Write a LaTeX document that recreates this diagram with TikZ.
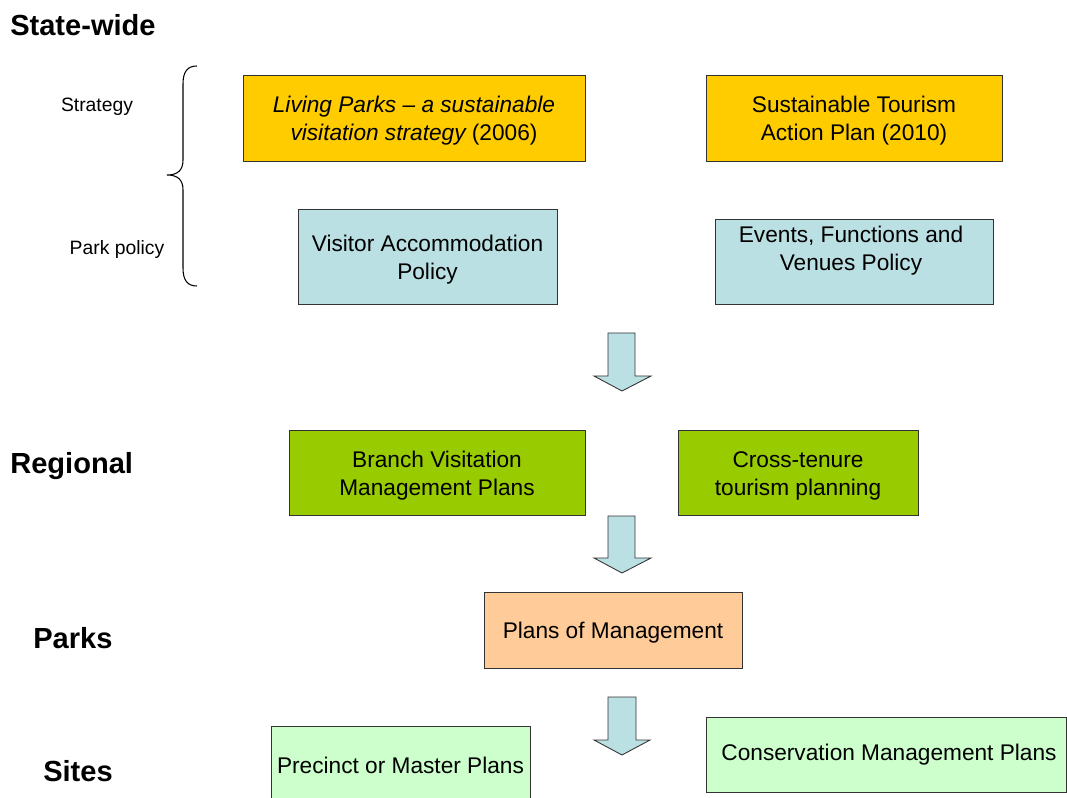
\documentclass[tikz,border=0pt]{standalone}
\usepackage{fontspec}
\setmainfont{Liberation Sans}
\definecolor{cOrange}{HTML}{FFCC00}
\definecolor{cBlue}{HTML}{BBE0E3}
\definecolor{cGreen}{HTML}{99CC00}
\definecolor{cPeach}{HTML}{FFCC99}
\definecolor{cLight}{HTML}{CCFFCC}
\definecolor{cLine}{HTML}{333333}
\begin{document}
\begin{tikzpicture}[x=0.75pt,y=-0.75pt,
  box/.style={draw=cLine,line width=0.65pt,inner sep=0pt},
  sz/.style 2 args={minimum width={#1*0.75pt},minimum height={#2*0.75pt}},
  body/.style={font=\fontsize{17}{21}\selectfont,align=center,inner sep=0pt,yshift=-2.3pt},
  head/.style={font=\fontsize{21.8}{26}\selectfont\bfseries,anchor=west,inner sep=0pt,yshift=-1pt},
  side/.style={font=\fontsize{14.5}{17}\selectfont,inner sep=0pt,yshift=-2pt},
  blockarrow/.style={draw=cLine,line width=0.65pt,fill=cBlue,line join=miter}]
\useasboundingbox (0,0) rectangle (1067,798);

% headings
\node[head] (hState) at (10,24) {State-wide};
\node[head] (hReg) at (10,465) {Regional};
\node[head] (hParks) at (33,637) {Parks};
\node[head] (hSites) at (43,770) {Sites};

\node[side] (lStrat) at (97,104) {Strategy};
\node[side] (lPol) at (117,247) {Park policy};

% brace
\draw[line width=0.8pt,black] (197,66) .. controls (188,66) and (183,71) .. (183,84) -- (183,160)
  .. controls (183,170) and (178,175) .. (167,175)
  .. controls (178,175) and (183,180) .. (183,190) -- (183,268)
  .. controls (183,281) and (188,286) .. (197,286);

% state-wide boxes
\node[box,fill=cOrange,sz={342}{86}] (living) at (414,118) {};
\node[body] (livingT) at (living.center) {\itshape Living Parks -- a sustainable\\\itshape visitation strategy \upshape(2006)};
\node[box,fill=cOrange,sz={296}{86}] (tourism) at (854,118) {};
\node[body] (tourismT) at (tourism.center) {Sustainable Tourism\\Action Plan (2010)};
\node[box,fill=cBlue,sz={259}{95}] (visitor) at (427.5,256.5) {};
\node[body] (visitorT) at (427.5,257) {Visitor Accommodation\\Policy};
\node[box,fill=cBlue,sz={278}{85}] (events) at (854,261.5) {};
\node[body] (eventsT) at (851,248) {Events, Functions and\\Venues Policy};

% regional
\node[box,fill=cGreen,sz={296}{85}] (branch) at (437,472.5) {};
\node[body] (branchT) at (branch.center) {Branch Visitation\\Management Plans};
\node[box,fill=cGreen,sz={240}{85}] (cross) at (798,472.5) {};
\node[body] (crossT) at (cross.center) {Cross-tenure\\tourism planning};

% parks
\node[box,fill=cPeach,sz={258}{76}] (pom) at (613,630) {};
\node[body] (pomT) at (pom.center) {Plans of Management};

% sites
\node[box,fill=cLight,sz={259}{80}] (precinct) at (400.5,766) {};
\node[body] (precinctT) at (400.5,762) {Precinct or Master Plans};
\node[box,fill=cLight,sz={360}{75}] (conserv) at (886,754.5) {};
\node[body] (conservT) at (889,752) {Conservation Management Plans};

% block arrows
\draw[blockarrow] (608,333) -- (635,333) -- (635,376) -- (651,376) -- (622,391) -- (594,376) -- (608,376) -- cycle;
\draw[blockarrow] (608,516) -- (635,516) -- (635,558) -- (651,558) -- (622,573) -- (594,558) -- (608,558) -- cycle;
\draw[blockarrow] (608,697) -- (636,697) -- (636,740) -- (650,740) -- (622,755) -- (594,740) -- (608,740) -- cycle;
\end{tikzpicture}
\end{document}
